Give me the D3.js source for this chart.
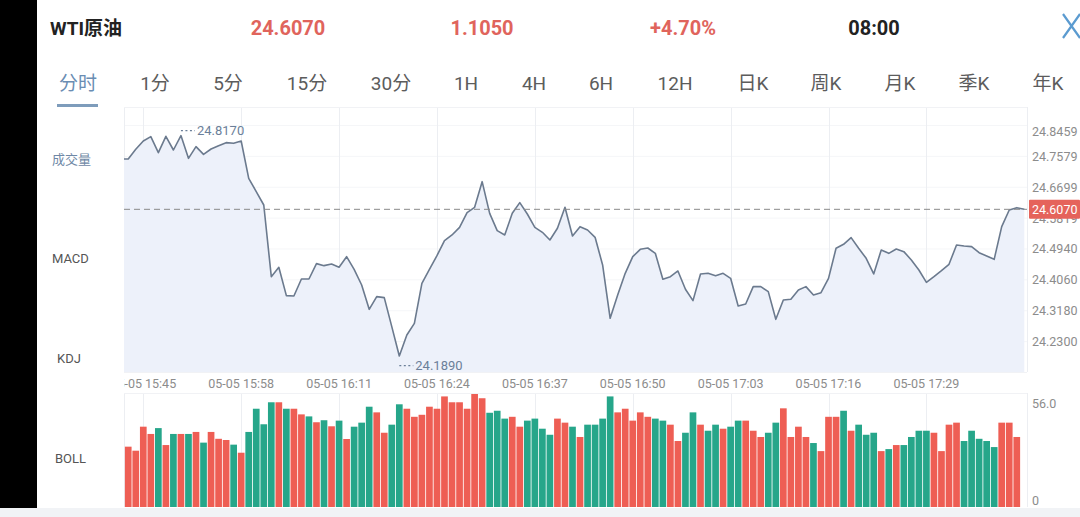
<!DOCTYPE html>
<html><head><meta charset="utf-8">
<script src="https://cdn.jsdelivr.net/npm/d3@7"></script>
<style>
html,body{margin:0;padding:0;background:#fff;overflow:hidden}
svg{display:block}
text{font-family:Roboto,"Noto Sans CJK SC",sans-serif}
</style>
</head><body>
<svg id="c" width="1080" height="517"></svg>
<script>
// ---------------- data ----------------
const symbolName = "WTI原油";
const quoteValues = ["24.6070", "1.1050", "+4.70%"];
const quoteTime = "08:00";
const tabs = ["分时","1分","5分","15分","30分","1H","4H","6H","12H","日K","周K","月K","季K","年K"];
const indicatorLabels = ["成交量","MACD","KDJ","BOLL"];

const priceStart = "05-05 15:42";   // one price per minute
const prices = [
 24.7504,24.7504,24.7779,24.8017,24.8140,24.7684,24.8150,24.7760,24.8170,24.7523,
 24.7855,24.7637,24.7789,24.7884,24.7969,24.7950,24.8017,24.6953,24.6573,24.6193,
 24.4152,24.4418,24.3610,24.3601,24.4085,24.4085,24.4522,24.4465,24.4513,24.4418,
 24.4721,24.4361,24.3914,24.3221,24.3582,24.3553,24.2727,24.1890,24.2490,24.2822,
 24.3962,24.4361,24.4750,24.5177,24.5339,24.5557,24.5975,24.6127,24.6858,24.5956,
 24.5462,24.5339,24.5956,24.6260,24.5937,24.5557,24.5415,24.5196,24.5529,24.6127,
 24.5310,24.5576,24.5481,24.5272,24.4484,24.2965,24.3629,24.4247,24.4721,24.4930,
 24.4968,24.4816,24.4076,24.4152,24.4313,24.3791,24.3468,24.4228,24.4247,24.4180,
 24.4247,24.4104,24.3316,24.3373,24.3867,24.3867,24.3724,24.2936,24.3487,24.3506,
 24.3772,24.3867,24.3629,24.3696,24.4104,24.4959,24.5073,24.5263,24.4959,24.4674,
 24.4228,24.4911,24.4816,24.4940,24.4864,24.4627,24.4342,24.3990,24.4152,24.4323,
 24.4503,24.5054,24.5025,24.5006,24.4835,24.4740,24.4645,24.5576,24.6051,24.6117,
 24.6070
];
const currentPrice = 24.6070;

const volumeStart = "05-05 15:43";  // one bar per minute
const volumes = [
 29.9,27.9,39.8,36.2,39.1,30.7,36.2,36.2,36.2,37.2,
 31.9,37.2,33.8,33.2,30.9,26.9,37.2,48.7,41.0,51.9,
 51.9,48.7,48.7,45.9,44.9,42.0,43.0,40.0,42.8,33.7,
 39.8,41.8,49.7,46.9,36.8,40.8,50.9,48.7,44.7,45.7,
 49.7,48.7,54.8,51.9,51.9,48.7,56.0,53.9,46.7,47.7,
 43.8,44.7,39.8,42.8,43.8,38.8,35.8,43.8,41.8,39.8,
 34.7,40.8,40.8,43.8,54.8,46.9,48.7,42.8,46.9,44.7,
 43.8,42.8,40.8,32.7,36.8,46.9,40.8,37.8,40.8,38.8,
 39.8,42.8,42.8,37.8,34.7,36.8,41.8,48.9,34.7,39.8,
 34.7,31.7,27.7,44.7,44.7,47.7,37.8,40.8,35.8,36.8,
 27.7,28.7,30.7,30.7,34.7,37.8,37.8,36.8,27.7,40.8,
 41.8,32.7,37.8,33.8,32.7,29.7,41.8,41.8,34.7
];
// 1 = up (red), 0 = down (green)
const volumeUp = [
 1,1,1,1,0,1,0,1,0,1,
 0,1,1,1,0,1,0,0,0,0,
 1,0,1,1,0,1,0,1,0,1,
 0,0,0,1,1,0,0,1,1,1,
 1,1,1,1,1,1,1,1,0,0,
 0,1,1,0,0,0,0,1,1,0,
 1,0,0,0,0,1,1,1,1,1,
 0,0,1,1,0,0,1,0,0,1,
 0,0,1,1,1,0,0,1,1,1,
 1,0,1,1,1,0,1,0,0,0,
 1,0,1,0,0,0,0,1,1,1,
 1,0,0,0,0,0,1,1,1
];
const volumeAxisMax = 56.0;
const volumeTickLabels = ["56.0","0"];

const priceTicks = [24.2300,24.3180,24.4060,24.4940,24.5819,24.6699,24.7579,24.8459];
const timeTicks = ["05-05 15:45","05-05 15:58","05-05 16:11","05-05 16:24","05-05 16:37",
                   "05-05 16:50","05-05 17:03","05-05 17:16","05-05 17:29"];

// ---------------- layout / style ----------------
const RED = "#ee5e54", GREEN = "#26a68a", LINE = "#6b7a8e", AREA = "#edf1fa";
const P = {left:124, right:1027, top:107, bottom:372, vTop:394, vBottom:507};
const svg = d3.select("#c");
const parse = d3.timeParse("%m-%d %H:%M");
const t0 = parse(priceStart);
const tEnd = d3.timeMinute.offset(t0, prices.length - 1);
const vt0 = parse(volumeStart);

const x = d3.scaleTime().domain([t0, tEnd]).range([120.7, 1024.3]);
const y = d3.scaleLinear().domain([24.1435, 24.8985]).range([P.bottom, P.top]);
const vy = d3.scaleLinear().domain([0, volumeAxisMax]).range([P.vBottom, P.vTop]);

// background pieces
svg.append("rect").attr("x",0).attr("y",0).attr("width",1080).attr("height",517).attr("fill","#fff");
svg.append("rect").attr("x",0).attr("y",0).attr("width",37).attr("height",508).attr("fill","#000");
svg.append("rect").attr("x",0).attr("y",508).attr("width",1080).attr("height",9).attr("fill","#f1f3f6");

// header
svg.append("text").attr("x",50).attr("y",28).attr("dominant-baseline","central")
  .attr("font-size",19).attr("font-weight","bold").attr("fill","#222").text(symbolName);
const quoteX = [288, 482, 683];
svg.selectAll("text.q").data(quoteValues).join("text").attr("class","q")
  .attr("x",(d,i)=>quoteX[i]).attr("y",28).attr("text-anchor","middle").attr("dominant-baseline","central")
  .attr("font-size",20).attr("font-weight","bold").attr("fill","#e0645c").text(d=>d);
svg.append("text").attr("x",874).attr("y",28).attr("text-anchor","middle").attr("dominant-baseline","central")
  .attr("font-size",20).attr("font-weight","bold").attr("fill","#222").text(quoteTime);
// close icon
svg.append("path").attr("d","M1063,14 L1080,38 M1063,38 L1080,14").attr("stroke","#5b9bd0").attr("stroke-width",2.2).attr("fill","none");

// tabs
const tabX = [78,155,228,307,391,466,534,601,675,753,826,900,974,1048];
svg.selectAll("text.tab").data(tabs).join("text").attr("class","tab")
  .attr("x",(d,i)=>tabX[i]).attr("y",83).attr("text-anchor","middle").attr("dominant-baseline","central")
  .attr("font-size",19).attr("fill",(d,i)=>i===0?"#6a8db3":"#5c5c5c").text(d=>d);
svg.append("rect").attr("x",57).attr("y",104).attr("width",41).attr("height",3).attr("fill","#7e9cbb");

// left indicator labels
const indY = [159,258,358,458], indX = [52,52,57,55];
svg.selectAll("text.ind").data(indicatorLabels).join("text").attr("class","ind")
  .attr("x",(d,i)=>indX[i]).attr("y",(d,i)=>indY[i]).attr("dominant-baseline","central")
  .attr("font-size",13).attr("fill",(d,i)=>i===0?"#6f88a6":"#555").text(d=>d);

// clip paths
const defs = svg.append("defs");
defs.append("clipPath").attr("id","plotClip").append("rect")
  .attr("x",P.left).attr("y",P.top-2).attr("width",P.right-P.left).attr("height",P.bottom-P.top+2);
defs.append("clipPath").attr("id","labelClip").append("rect")
  .attr("x",P.left).attr("y",P.bottom).attr("width",1080-P.left).attr("height",22);

// grid
const tickTimes = timeTicks.map(parse);
const grid = svg.append("g").attr("stroke","#eceef2").attr("stroke-width",1);
priceTicks.forEach(v=>{
  grid.append("line").attr("x1",P.left).attr("x2",P.right).attr("y1",y(v)).attr("y2",y(v)).attr("stroke","#f5f6f8");
});
tickTimes.forEach(t=>{
  const xx = Math.round(x(t))+0.5;
  grid.append("line").attr("x1",xx).attr("x2",xx).attr("y1",P.top).attr("y2",P.bottom);
  grid.append("line").attr("x1",xx).attr("x2",xx).attr("y1",P.vTop-1).attr("y2",P.vBottom);
});
[P.left+0.5, P.right+0.5].forEach(xx=>{
  grid.append("line").attr("x1",xx).attr("x2",xx).attr("y1",P.top).attr("y2",P.bottom);
  grid.append("line").attr("x1",xx).attr("x2",xx).attr("y1",P.vTop-1).attr("y2",P.vBottom);
});
[P.top+0.5, P.bottom+0.5, P.vTop-0.5].forEach(yy=>{
  grid.append("line").attr("x1",P.left).attr("x2",P.right).attr("y1",yy).attr("y2",yy).attr("stroke","#f1f2f5");
});

// price area + line
const pts = prices.map((p,i)=>({t:d3.timeMinute.offset(t0,i), p}));
const g = svg.append("g").attr("clip-path","url(#plotClip)");
g.append("path").datum(pts)
  .attr("d", d3.area().x(d=>x(d.t)).y0(P.bottom).y1(d=>y(d.p)))
  .attr("fill",AREA);
g.append("path").datum(pts)
  .attr("d", d3.line().x(d=>x(d.t)).y(d=>y(d.p)))
  .attr("fill","none").attr("stroke",LINE).attr("stroke-width",1.6).attr("stroke-linejoin","round");

// current price dashed line
svg.append("line").attr("x1",P.left).attr("x2",P.right).attr("y1",y(currentPrice)).attr("y2",y(currentPrice))
  .attr("stroke","#8a8a8a").attr("stroke-width",1).attr("stroke-dasharray","6,4");

// max / min annotations
const maxI = d3.maxIndex(prices), minI = d3.minIndex(prices);
function annot(i, dy){
  const xx = x(pts[i].t), yy = y(pts[i].p) + dy;
  svg.append("line").attr("x1",xx).attr("x2",xx+14).attr("y1",yy).attr("y2",yy)
    .attr("stroke","#6b7f99").attr("stroke-width",1.2).attr("stroke-dasharray","2,2.5");
  svg.append("text").attr("x",xx+16).attr("y",yy).attr("dominant-baseline","central")
    .attr("font-size",13).attr("fill","#6b7f99").text(pts[i].p.toFixed(4));
}
annot(maxI, -5);
annot(minI, 9.5);

// right price axis labels
svg.selectAll("text.pt").data(priceTicks).join("text").attr("class","pt")
  .attr("x",1032).attr("y",d=>Math.max(y(d),131)).attr("dominant-baseline","central")
  .attr("font-size",12.5).attr("fill","#8c8c8c").text(d=>d.toFixed(4));

// current price badge
svg.append("rect").attr("x",1029).attr("y",y(currentPrice)-9.5).attr("width",51).attr("height",19)
  .attr("fill","#e5635b").attr("rx",1);
svg.append("text").attr("x",1032).attr("y",y(currentPrice)+0.5).attr("dominant-baseline","central")
  .attr("font-size",12.5).attr("fill","#fff").text(currentPrice.toFixed(4));

// time axis labels
svg.append("g").attr("clip-path","url(#labelClip)")
  .selectAll("text").data(timeTicks).join("text")
  .attr("x",(d,i)=>x(tickTimes[i])).attr("y",383).attr("text-anchor","middle").attr("dominant-baseline","central")
  .attr("font-size",12.5).attr("fill","#8c8c8c").text(d=>d);

// volume bars
const bw = 6.7;
svg.append("g").selectAll("rect").data(volumes).join("rect")
  .attr("x",(d,i)=>x(d3.timeMinute.offset(vt0,i)) - bw/2)
  .attr("y",d=>vy(d)).attr("width",bw).attr("height",d=>vy(0)-vy(d))
  .attr("fill",(d,i)=>volumeUp[i]?RED:GREEN);

// volume axis labels
svg.append("text").attr("x",1032).attr("y",403).attr("dominant-baseline","central")
  .attr("font-size",12.5).attr("fill","#8c8c8c").text(volumeTickLabels[0]);
svg.append("text").attr("x",1032).attr("y",500).attr("dominant-baseline","central")
  .attr("font-size",12.5).attr("fill","#8c8c8c").text(volumeTickLabels[1]);
</script>
</body></html>
